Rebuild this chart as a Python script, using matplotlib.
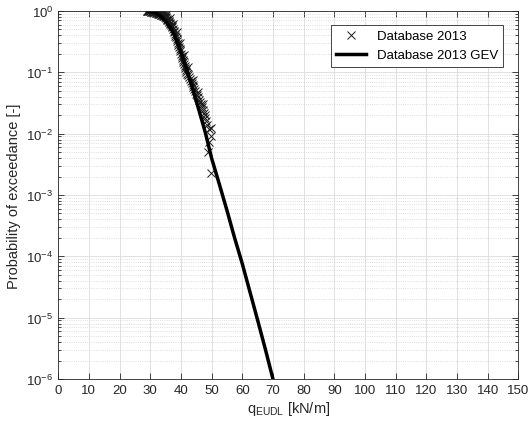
import numpy as np
import matplotlib
matplotlib.use("Agg")
import matplotlib.pyplot as plt
from matplotlib.ticker import LogLocator, MultipleLocator, NullFormatter

plt.rcParams['font.family'] = ['Liberation Sans', 'DejaVu Sans']
plt.rcParams['mathtext.default'] = 'regular'

q_obs = [28.8, 29.0, 29.2, 29.4, 29.6, 29.8, 30.0, 30.2, 30.4, 30.6,
         30.8, 31.0, 31.2, 31.4, 31.6, 31.8, 32.0, 32.2, 32.4, 32.6,
         32.8, 33.0, 33.2, 33.4, 33.6, 33.8, 34.0, 34.2, 34.4, 34.6,
         34.8, 35.0, 35.2, 35.4, 35.6, 35.8, 36.0, 36.2, 36.4, 36.6,
         36.8, 37.0, 37.2, 37.4, 37.6, 37.8, 38.0, 38.2, 38.4, 38.6,
         38.8, 39.0, 39.2, 39.4, 39.6, 39.8, 40.0, 40.2, 40.4, 40.6,
         40.8, 41.0, 41.2, 41.4, 41.6, 41.8, 42.0, 42.3, 42.6, 42.9,
         43.2, 43.5, 43.8, 44.1, 44.4, 44.7, 45.0, 45.3, 45.6, 45.9,
         46.2, 46.5, 46.8, 47.1, 47.4, 47.7, 48.0, 48.3, 48.6, 49.0,
         49.8, 49.8, 49.2, 48.7, 49.8,
         33.5, 35.0, 36.3, 37.5, 38.6, 39.8, 41.0, 42.4, 44.0, 45.7, 47.2]
p_obs = [1.0, 0.995, 0.99, 0.988, 0.985, 0.982, 0.98, 0.976, 0.972, 0.968,
         0.964, 0.96, 0.955, 0.95, 0.944, 0.937, 0.93, 0.922, 0.914, 0.906,
         0.898, 0.89, 0.882, 0.874, 0.866, 0.858, 0.85, 0.84, 0.83, 0.815,
         0.80, 0.785, 0.765, 0.745, 0.725, 0.70, 0.68, 0.66, 0.635, 0.615,
         0.59, 0.57, 0.54, 0.51, 0.48, 0.45, 0.42, 0.395, 0.37, 0.345,
         0.32, 0.30, 0.28, 0.26, 0.24, 0.22, 0.20, 0.186, 0.172, 0.159,
         0.147, 0.135, 0.126, 0.118, 0.11, 0.102, 0.095, 0.089, 0.083, 0.077,
         0.072, 0.067, 0.062, 0.057, 0.053, 0.049, 0.045, 0.042, 0.039, 0.036,
         0.033, 0.030, 0.027, 0.024, 0.022, 0.020, 0.018, 0.016, 0.014, 0.012,
         0.0125, 0.0093, 0.0072, 0.0050, 0.0023,
         0.94, 0.86, 0.76, 0.62, 0.46, 0.30, 0.19, 0.12, 0.075, 0.047, 0.030]

# fitted GEV curve
q_gev = [29, 30, 31, 32, 33, 34, 35, 36, 37, 38, 39, 40, 42, 44, 46, 48, 50,
         52.5, 55, 57.5, 60, 62.5, 65, 67.5, 70]
logp_gev = [0.0, -0.01, -0.02, -0.04, -0.07, -0.11, -0.16, -0.23, -0.31, -0.41,
            -0.53, -0.67, -0.97, -1.3, -1.64, -1.99, -2.4, -2.82, -3.25, -3.7,
            -4.12, -4.58, -5.04, -5.51, -6.0]
p_gev = [10 ** v for v in logp_gev]

fig = plt.figure(figsize=(5.29, 4.27), dpi=100)
ax = fig.add_axes([0.110, 0.110, 0.870, 0.862])

ax.semilogy(q_obs, p_obs, 'x', color='#1a1a1a', markersize=6, markeredgewidth=0.7,
            label='Database 2013')
ax.semilogy(q_gev, p_gev, '-', color='black', linewidth=2.5,
            label='Database 2013 GEV')

ax.set_xlim(0, 150)
ax.set_ylim(1e-6, 1)
ax.xaxis.set_major_locator(MultipleLocator(10))
ax.yaxis.set_major_locator(LogLocator(base=10, numticks=10))
ax.yaxis.set_minor_locator(LogLocator(base=10, subs=np.arange(2, 10), numticks=20))
ax.yaxis.set_minor_formatter(NullFormatter())

ax.grid(True, which='major', color='#dcdcdc', linewidth=0.6, linestyle='-')
ax.grid(True, which='minor', axis='y', color='#d4d4d4', linewidth=0.6, linestyle=':')
ax.set_axisbelow(True)

for s in ax.spines.values():
    s.set_color('#262626')
    s.set_linewidth(0.6)
ax.tick_params(which='both', direction='in', top=True, right=True,
               colors='#262626', labelsize=9.5, width=0.6)
ax.tick_params(which='major', length=4)
ax.tick_params(which='minor', length=2)

ax.set_xlabel('q$_{EUDL}$ [kN/m]', fontsize=10.5, color='#262626', labelpad=2)
ax.set_ylabel('Probability of exceedance [-]', fontsize=10.5, color='#262626')

leg = ax.legend(loc='upper right', bbox_to_anchor=(0.967, 0.962), borderaxespad=0,
                fontsize=9.5, fancybox=False, framealpha=1, edgecolor='#262626',
                handlelength=2.3)
leg.get_frame().set_linewidth(0.6)

fig.savefig('out.png', dpi=100)
